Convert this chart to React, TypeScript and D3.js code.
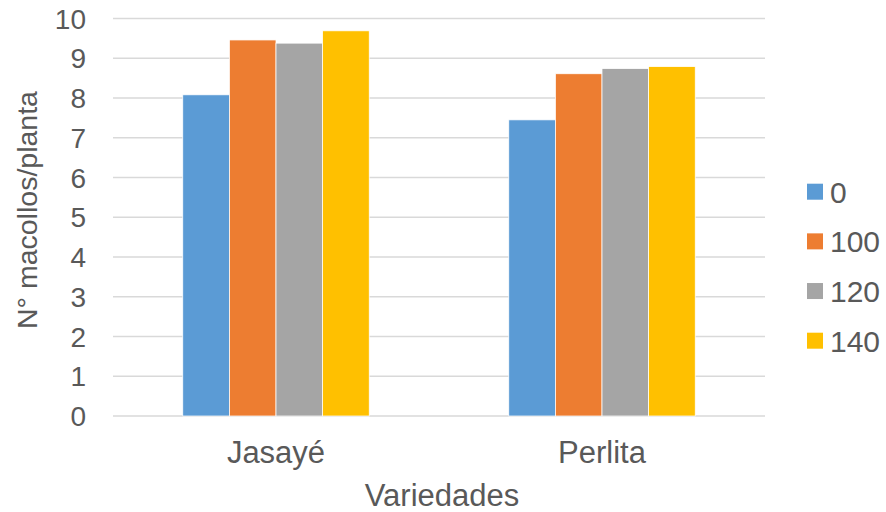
import React from "react";
import * as d3 from "d3";

const categories = ["Jasayé", "Perlita"];
const seriesNames = ["0", "100", "120", "140"];
const values0 = [8.08, 7.45];
const values100 = [9.46, 8.61];
const values120 = [9.38, 8.74];
const values140 = [9.69, 8.79];
const yTicks = [0, 1, 2, 3, 4, 5, 6, 7, 8, 9, 10];
const colors = ["#5B9BD5", "#ED7D31", "#A5A5A5", "#FFC000"];

const seriesValues = [values0, values100, values120, values140];

const W = 886;
const H = 512;
const FONT = "'Liberation Sans', Arial, sans-serif";
const TEXT = "#595959";

export default function App() {
  const plotLeft = 113;
  const plotRight = 765;
  const y = d3.scaleLinear().domain([0, 10]).range([416, 18.5]);
  const x0 = d3
    .scaleBand<string>()
    .domain(categories)
    .range([plotLeft, plotRight])
    .paddingInner(0.428)
    .paddingOuter(0.214);
  const x1 = d3
    .scaleBand<string>()
    .domain(seriesNames)
    .range([0, x0.bandwidth()])
    .padding(0);

  const legendY = d3
    .scalePoint<string>()
    .domain(seriesNames)
    .range([191.7, 340.7]);

  return (
    <div style={{ position: "fixed", left: 0, top: 0 }}>
      <svg width={W} height={H} style={{ display: "block", background: "#fff" }}>
        {yTicks.map((t) => (
          <g key={t}>
            <line
              x1={plotLeft}
              x2={plotRight}
              y1={y(t)}
              y2={y(t)}
              stroke="#D9D9D9"
              strokeWidth={1.3}
            />
            <text
              x={86}
              y={y(t)}
              dy="0.36em"
              textAnchor="end"
              fontFamily={FONT}
              fontSize={28}
              fill={TEXT}
            >
              {t}
            </text>
          </g>
        ))}
        {categories.map((c, ci) => (
          <g key={c} transform={`translate(${x0(c)},0)`}>
            {seriesNames.map((s, si) => (
              <rect
                key={s}
                x={x1(s)}
                y={y(seriesValues[si][ci])}
                width={x1.bandwidth()}
                height={y(0) - y(seriesValues[si][ci])}
                fill={colors[si]}
                stroke="#fff"
                strokeWidth={0.75}
              />
            ))}
          </g>
        ))}
        {categories.map((c) => (
          <text
            key={c}
            x={(x0(c) as number) + x0.bandwidth() / 2}
            y={462.5}
            textAnchor="middle"
            fontFamily={FONT}
            fontSize={31}
            fill={TEXT}
          >
            {c}
          </text>
        ))}
        <text
          x={(plotLeft + plotRight) / 2 + 3}
          y={506}
          textAnchor="middle"
          fontFamily={FONT}
          fontSize={31}
          fill={TEXT}
        >
          Variedades
        </text>
        <text
          transform={`translate(37,${210}) rotate(-90)`}
          textAnchor="middle"
          fontFamily={FONT}
          fontSize={28.5}
          fill={TEXT}
        >
          N° macollos/planta
        </text>
        {seriesNames.map((s, si) => (
          <g key={s} transform={`translate(0,${legendY(s)})`}>
            <rect x={807} y={-8} width={16} height={16} fill={colors[si]} />
            <text
              x={830}
              y={0}
              dy="0.36em"
              fontFamily={FONT}
              fontSize={30}
              fill={TEXT}
            >
              {s}
            </text>
          </g>
        ))}
      </svg>
    </div>
  );
}
